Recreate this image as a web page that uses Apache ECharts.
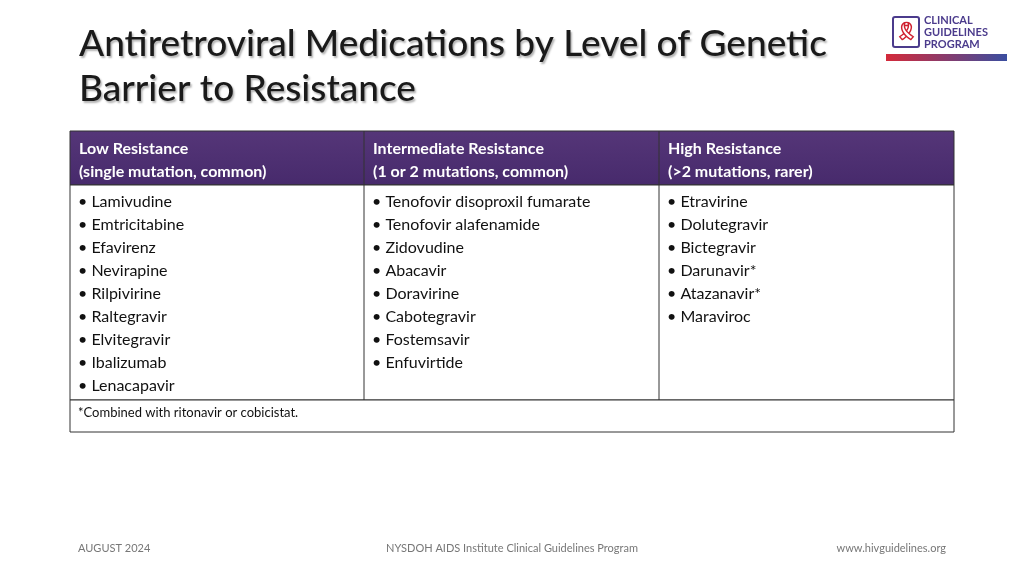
<!DOCTYPE html>
<html>
<head>
<meta charset="utf-8">
<script src="https://cdn.jsdelivr.net/npm/echarts@6/dist/echarts.min.js"></script>
</head>
<body style="margin:0">
<div id="main" style="width:1024px;height:576px"></div>
<script>
var headers = ['Low Resistance\n(single mutation, common)', 'Intermediate Resistance\n(1 or 2 mutations, common)', 'High Resistance\n(>2 mutations, rarer)'];
var lowDrugs = ['Lamivudine', 'Emtricitabine', 'Efavirenz', 'Nevirapine', 'Rilpivirine', 'Raltegravir', 'Elvitegravir', 'Ibalizumab', 'Lenacapavir'];
var midDrugs = ['Tenofovir disoproxil fumarate', 'Tenofovir alafenamide', 'Zidovudine', 'Abacavir', 'Doravirine', 'Cabotegravir', 'Fostemsavir', 'Enfuvirtide'];
var highDrugs = ['Etravirine', 'Dolutegravir', 'Bictegravir', 'Darunavir*', 'Atazanavir*', 'Maraviroc'];
var footnote = '*Combined with ritonavir or cobicistat.';
var columns = [lowDrugs, midDrugs, highDrugs];

var font = 'Lato, "Open Sans", sans-serif';
var colX = [70, 364, 659, 954];
var g = [];
// title
g.push({type: 'text', left: 79, top: 22, style: {text: 'Antiretroviral Medications by Level of Genetic\nBarrier to Resistance', font: '500 37px ' + font, lineHeight: 45, fill: '#1a1a1a',
  textShadowColor: 'rgba(0,0,0,0.3)', textShadowBlur: 2, textShadowOffsetX: 1.5, textShadowOffsetY: 1.5}});
// header
g.push({type: 'rect', shape: {x: 70, y: 131, width: 884, height: 54},
  style: {fill: new echarts.graphic.LinearGradient(0, 0, 0, 1, [{offset: 0, color: '#553678'}, {offset: 1, color: '#472a6c'}]), stroke: '#333', lineWidth: 1}});
// body and footnote boxes
g.push({type: 'rect', shape: {x: 70, y: 185, width: 884, height: 215}, style: {fill: '#fff', stroke: '#333', lineWidth: 1}});
g.push({type: 'rect', shape: {x: 70, y: 400, width: 884, height: 32}, style: {fill: '#fff', stroke: '#333', lineWidth: 1}});
[1, 2].forEach(function (i) {
  g.push({type: 'line', shape: {x1: colX[i], y1: 131, x2: colX[i], y2: 400}, style: {stroke: '#333', lineWidth: 1}});
});
headers.forEach(function (h, i) {
  g.push({type: 'text', x: colX[i] + 9, y: 137, style: {text: h, font: 'bold 16px ' + font, lineHeight: 23, fill: '#fff'}});
});
columns.forEach(function (list, i) {
  g.push({type: 'text', x: colX[i] + 8, y: 190, style: {text: list.map(function (d) { return '\u2022 ' + d; }).join('\n'), font: '16px ' + font, lineHeight: 23, fill: '#111'}});
});
g.push({type: 'text', x: 78, y: 406, style: {text: footnote, font: '13px ' + font, fill: '#111'}});
// footer
g.push({type: 'text', x: 78, y: 543, style: {text: 'AUGUST 2024', font: '11px ' + font, fill: '#777'}});
g.push({type: 'text', x: 512, y: 543, style: {text: 'NYSDOH AIDS Institute Clinical Guidelines Program', font: '11px ' + font, fill: '#777', align: 'center'}});
g.push({type: 'text', x: 946, y: 543, style: {text: 'www.hivguidelines.org', font: '11px ' + font, fill: '#777', align: 'right'}});
// logo
g.push({type: 'rect', shape: {x: 893, y: 17, width: 26, height: 30, r: 2}, style: {fill: '#fff', stroke: '#4b3b8c', lineWidth: 2}});
g.push({type: 'text', x: 906, y: 32, style: {text: '\u{1F397}', font: 'bold 18px sans-serif', fill: '#d0202f', align: 'center', verticalAlign: 'middle'}});
g.push({type: 'text', x: 924, y: 14, style: {text: 'CLINICAL\nGUIDELINES\nPROGRAM', font: 'bold 11px ' + font, lineHeight: 12, fill: '#4b3b8c'}});
g.push({type: 'rect', shape: {x: 886, y: 54, width: 121, height: 7},
  style: {fill: new echarts.graphic.LinearGradient(0, 0, 1, 0, [{offset: 0, color: '#d42a3a'}, {offset: 1, color: '#3a4ea0'}])}});

var chart = echarts.init(document.getElementById('main'));
chart.setOption({backgroundColor: '#fff', graphic: g});
</script>
</body>
</html>
